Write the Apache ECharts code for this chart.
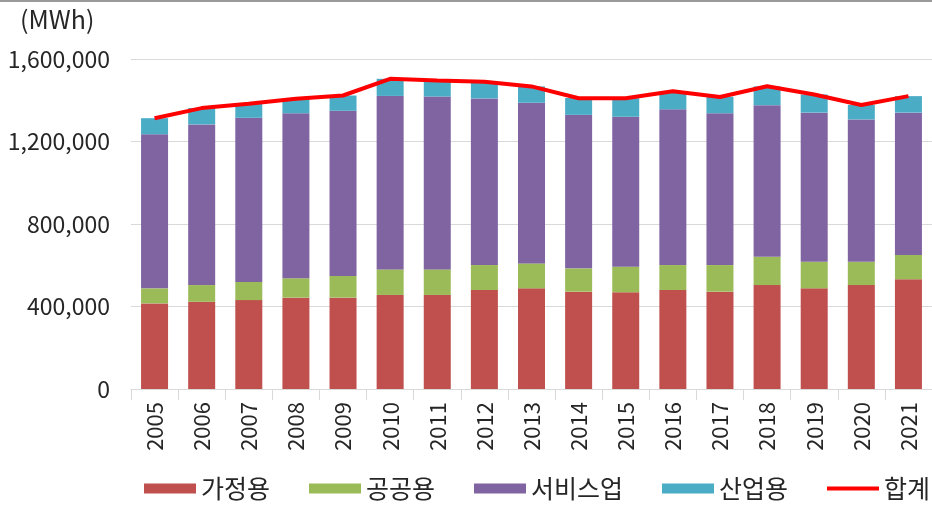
<!DOCTYPE html>
<html>
<head>
<meta charset="utf-8">
<script src="https://cdn.jsdelivr.net/npm/echarts@6/dist/echarts.min.js"></script>
<style>
    html, body { margin: 0; padding: 0; background: #fff; }
    #main { width: 932px; height: 506px; }
</style>
</head>
<body>
<div id="main"></div>
<script>
    // 연도
    const years = ['2005', '2006', '2007', '2008', '2009', '2010', '2011', '2012', '2013',
        '2014', '2015', '2016', '2017', '2018', '2019', '2020', '2021'];
    // 부문별 사용량 (MWh)
    const household = [415000, 423000, 431000, 443000, 443000, 456000, 456000, 480000, 488000,
        472000, 469000, 480000, 472000, 504000, 488000, 504000, 532000];
    const publicUse = [73000, 81000, 88000, 94000, 105000, 124000, 124000, 121000, 121000,
        113000, 124000, 121000, 129000, 137000, 129000, 113000, 118000];
    const service = [747000, 779000, 796000, 800000, 801000, 841000, 838000, 808000, 779000,
        744000, 727000, 755000, 736000, 735000, 723000, 690000, 690000];
    const industry = [78000, 79000, 67000, 70000, 74000, 83000, 78000, 81000, 79000,
        82000, 90000, 88000, 80000, 91000, 88000, 70000, 80000];
    const total = [1313000, 1362000, 1383000, 1407000, 1423000, 1504000, 1496000, 1490000, 1467000,
        1410000, 1410000, 1444000, 1416000, 1468000, 1428000, 1377000, 1420000];
    const yTicks = [0, 400000, 800000, 1200000, 1600000];

    const font = '"Noto Sans CJK KR", "Noto Sans", sans-serif';
    const textColor = '#262626';

    let myChart = echarts.init(document.getElementById('main'));

    let option = {
        animation: false,
        textStyle: { fontFamily: font },
        graphic: [{
            type: 'rect',
            left: 0, top: 0,
            shape: { width: 932, height: 2 },
            style: { fill: '#9a9a9a' }
        }, {
            type: 'text',
            left: 20, top: 7,
            style: { text: '(MWh)', fontSize: 25, fill: textColor, fontFamily: font }
        }],
        legend: {
            left: 144,
            top: 476,
            width: 820,
            padding: 0,
            itemWidth: 52,
            itemHeight: 10,
            itemGap: 39,
            textStyle: { fontSize: 25, color: textColor },
            data: [
                { name: '가정용', icon: 'rect' },
                { name: '공공용', icon: 'rect' },
                { name: '서비스업', icon: 'rect' },
                { name: '산업용', icon: 'rect' },
                // 선 모양 아이콘 (위아래 여백 포함)
                { name: '합계', icon: 'path://M0,0 M0,10 M0,3 H52 V7 H0 Z' }
            ]
        },
        grid: {
            left: 131,
            top: 59,
            width: 810,
            height: 330
        },
        xAxis: {
            type: 'category',
            data: years,
            axisLine: { lineStyle: { color: '#d9d9d9', width: 1 } },
            axisTick: { show: true, length: 11, lineStyle: { color: '#d9d9d9' } },
            axisLabel: {
                rotate: 90,
                margin: 13,
                fontSize: 22,
                color: textColor,
                fontFamily: font
            }
        },
        yAxis: {
            type: 'value',
            min: yTicks[0],
            max: yTicks[yTicks.length - 1],
            interval: yTicks[1] - yTicks[0],
            splitLine: { lineStyle: { color: '#d9d9d9', width: 1 } },
            axisLine: { show: false },
            axisTick: { show: false },
            axisLabel: {
                margin: 21,
                fontSize: 23,
                color: textColor,
                fontFamily: font,
                formatter: v => v.toLocaleString('en-US')
            }
        },
        series: [
            {
                name: '가정용', type: 'bar', stack: 'sum', barWidth: 27,
                itemStyle: { color: '#C0504D' }, data: household
            },
            {
                name: '공공용', type: 'bar', stack: 'sum', barWidth: 27,
                itemStyle: { color: '#9BBB59' }, data: publicUse
            },
            {
                name: '서비스업', type: 'bar', stack: 'sum', barWidth: 27,
                itemStyle: { color: '#8064A2' }, data: service
            },
            {
                name: '산업용', type: 'bar', stack: 'sum', barWidth: 27,
                itemStyle: { color: '#4BACC6' }, data: industry
            },
            {
                name: '합계', type: 'line',
                symbol: 'none',
                itemStyle: { color: '#FF0000' },
                lineStyle: { color: '#FF0000', width: 4 },
                z: 5,
                data: total
            }
        ]
    };
    myChart.setOption(option);
</script>
</body>
</html>
